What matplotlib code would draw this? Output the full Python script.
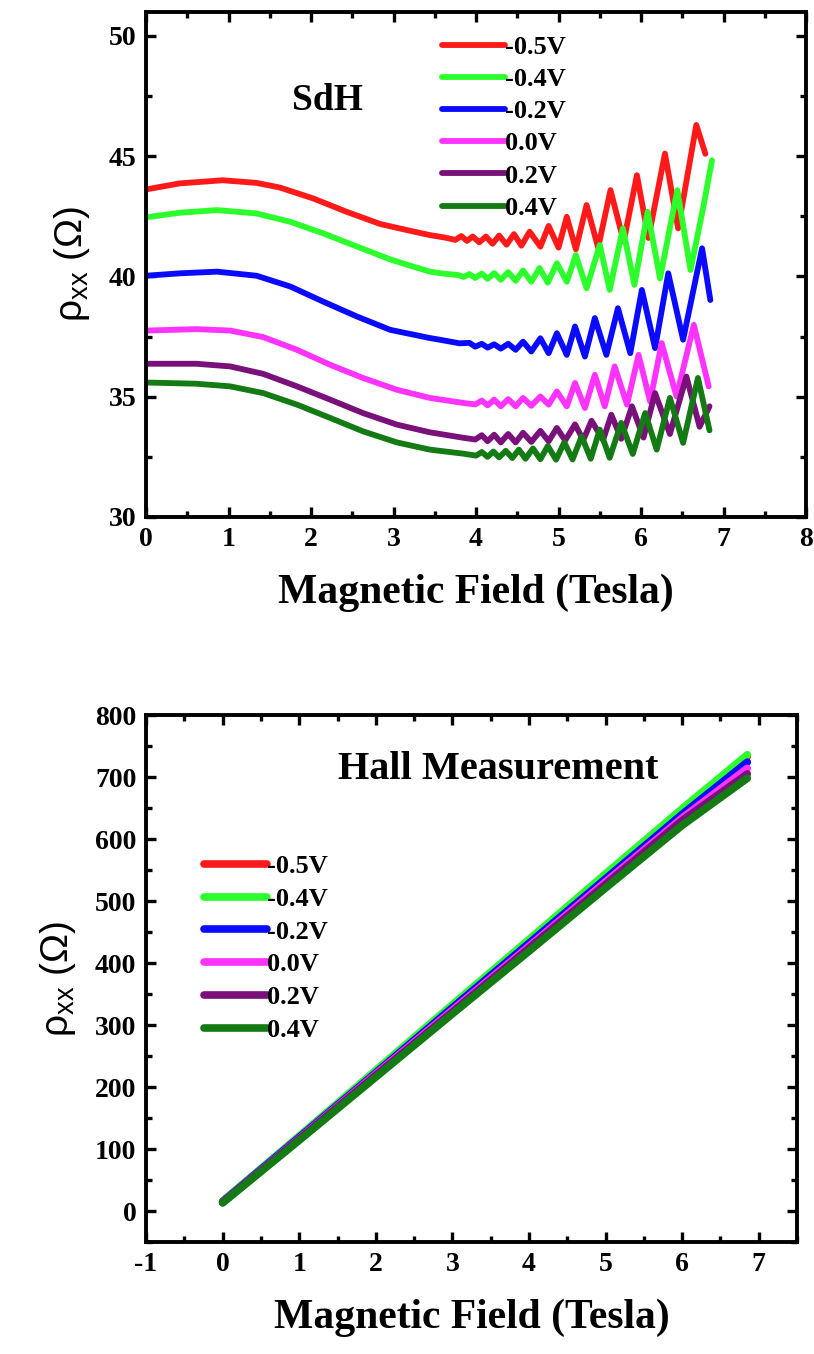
import matplotlib
matplotlib.use("Agg")
import matplotlib.pyplot as plt
from matplotlib.ticker import MultipleLocator

# gate voltages and colours
labels = ['-0.5V', '-0.4V', '-0.2V', '0.0V', '0.2V', '0.4V']
colors = ['#ff1a1a', '#2cff2c', '#0a0aff', '#ff33ff', '#7a107a', '#147a14']

# SdH panel, rho_xx (Ohm) vs B (T)
sdh_x_m05 = [0.0, 0.41, 0.93, 1.34, 1.62, 2.03, 2.43, 2.84, 3.20, 3.44,
             3.62, 3.75, 3.82, 3.89, 3.96, 4.04, 4.12, 4.20, 4.28, 4.37,
             4.46, 4.55, 4.65, 4.78, 4.88, 5.00, 5.10, 5.21, 5.34, 5.48,
             5.63, 5.79, 5.95, 6.09, 6.29, 6.45, 6.67, 6.78]
sdh_y_m05 = [43.62, 43.87, 44.00, 43.89, 43.70, 43.24, 42.69, 42.18, 41.90, 41.72,
             41.62, 41.52, 41.68, 41.48, 41.66, 41.42, 41.66, 41.36, 41.70, 41.32,
             41.76, 41.28, 41.86, 41.24, 42.10, 41.20, 42.48, 41.13, 42.97, 41.20,
             43.59, 41.45, 44.21, 41.60, 45.11, 42.00, 46.30, 45.10]

sdh_x_m04 = [0.0, 0.41, 0.86, 1.34, 1.75, 2.15, 2.56, 2.96, 3.20, 3.44,
             3.60, 3.78, 3.85, 3.92, 3.99, 4.07, 4.14, 4.22, 4.30, 4.39,
             4.48, 4.57, 4.67, 4.77, 4.87, 4.98, 5.10, 5.21, 5.34, 5.50,
             5.62, 5.78, 5.92, 6.08, 6.23, 6.44, 6.60, 6.75, 6.86]
sdh_y_m04 = [42.46, 42.65, 42.76, 42.62, 42.27, 41.79, 41.24, 40.71, 40.45, 40.20,
             40.12, 40.06, 39.98, 40.10, 39.94, 40.12, 39.90, 40.14, 39.86, 40.18,
             39.82, 40.25, 39.78, 40.35, 39.74, 40.55, 39.78, 40.89, 39.51, 41.31,
             39.44, 42.00, 39.65, 42.69, 39.92, 43.59, 40.27, 42.80, 44.83]

sdh_x_m02 = [0.0, 0.41, 0.86, 1.34, 1.75, 2.15, 2.56, 2.96, 3.44, 3.56,
             3.80, 3.92, 3.99, 4.07, 4.14, 4.22, 4.30, 4.39, 4.48, 4.57,
             4.67, 4.78, 4.88, 4.98, 5.10, 5.20, 5.32, 5.44, 5.58, 5.72,
             5.87, 6.01, 6.17, 6.33, 6.51, 6.74, 6.84]
sdh_y_m02 = [40.03, 40.13, 40.20, 40.03, 39.58, 38.95, 38.33, 37.78, 37.44, 37.37,
             37.22, 37.24, 37.08, 37.20, 37.04, 37.18, 37.00, 37.20, 36.95, 37.29,
             36.88, 37.43, 36.81, 37.64, 36.74, 37.92, 36.67, 38.27, 36.74, 38.68,
             36.81, 39.44, 37.02, 40.13, 37.37, 41.17, 39.02]

sdh_x_00 = [0.0, 0.61, 1.02, 1.42, 1.83, 2.23, 2.63, 3.04, 3.44, 3.85,
            3.99, 4.07, 4.14, 4.22, 4.30, 4.39, 4.48, 4.57, 4.67, 4.78,
            4.88, 4.98, 5.10, 5.20, 5.32, 5.44, 5.56, 5.68, 5.83, 5.97,
            6.11, 6.25, 6.43, 6.64, 6.82]
sdh_y_00 = [37.75, 37.81, 37.75, 37.48, 36.95, 36.33, 35.78, 35.29, 34.95, 34.74,
            34.68, 34.84, 34.64, 34.88, 34.60, 34.90, 34.60, 34.95, 34.62, 35.01,
            34.67, 35.22, 34.60, 35.57, 34.53, 35.91, 34.60, 36.26, 34.67, 36.74,
            34.80, 37.23, 35.01, 37.99, 35.43]

sdh_x_p02 = [0.0, 0.61, 1.02, 1.42, 1.83, 2.23, 2.63, 3.04, 3.44, 3.85,
             3.99, 4.07, 4.14, 4.22, 4.30, 4.39, 4.48, 4.57, 4.67, 4.78,
             4.88, 4.98, 5.08, 5.20, 5.30, 5.40, 5.54, 5.64, 5.76, 5.89,
             6.03, 6.17, 6.35, 6.55, 6.71, 6.83]
sdh_y_p02 = [36.37, 36.37, 36.26, 35.95, 35.43, 34.88, 34.32, 33.84, 33.52, 33.29,
             33.22, 33.40, 33.15, 33.42, 33.10, 33.45, 33.10, 33.50, 33.12, 33.58,
             33.15, 33.70, 33.18, 33.85, 33.20, 34.00, 33.20, 34.25, 33.25, 34.60,
             33.30, 35.15, 33.45, 35.84, 33.75, 34.60]

sdh_x_p04 = [0.0, 0.61, 1.02, 1.42, 1.83, 2.23, 2.63, 3.04, 3.44, 3.85,
             4.00, 4.07, 4.14, 4.21, 4.28, 4.36, 4.44, 4.52, 4.60, 4.69,
             4.78, 4.87, 4.97, 5.07, 5.17, 5.28, 5.39, 5.50, 5.62, 5.76,
             5.90, 6.05, 6.19, 6.35, 6.51, 6.69, 6.83]
sdh_y_p04 = [35.59, 35.54, 35.43, 35.15, 34.67, 34.12, 33.56, 33.10, 32.80, 32.63,
             32.55, 32.70, 32.50, 32.72, 32.48, 32.75, 32.45, 32.80, 32.42, 32.85,
             32.40, 32.95, 32.38, 33.10, 32.39, 33.35, 32.42, 33.63, 32.46, 33.91,
             32.62, 34.32, 32.80, 34.95, 33.08, 35.78, 33.60]

# Hall panel
hall_x = [0.0, 1.0, 2.0, 3.0, 4.0, 5.0, 6.0, 6.85]
hall_m05 = [15, 120, 226, 331, 437, 542, 648, 733]
hall_m04 = [16, 121, 227, 333, 438, 544, 649, 736]
hall_m02 = [15, 119, 223, 328, 432, 536, 640, 724]
hall_00 = [14, 117, 221, 324, 427, 531, 634, 714]
hall_p02 = [14, 116, 219, 321, 424, 527, 630, 705]
hall_p04 = [13, 114, 216, 318, 419, 521, 622, 698]

sdh_x = [sdh_x_m05, sdh_x_m04, sdh_x_m02, sdh_x_00, sdh_x_p02, sdh_x_p04]
sdh_y = [sdh_y_m05, sdh_y_m04, sdh_y_m02, sdh_y_00, sdh_y_p02, sdh_y_p04]
hall_y = [hall_m05, hall_m04, hall_m02, hall_00, hall_p02, hall_p04]

plt.rcParams['font.family'] = ['Liberation Serif', 'DejaVu Serif']
plt.rcParams['font.weight'] = 'bold'
plt.rcParams['mathtext.default'] = 'regular'
plt.rcParams['axes.unicode_minus'] = False

fig = plt.figure(figsize=(8.14, 13.54), dpi=100)
ax1 = fig.add_axes([0.1794, 0.6182, 0.8108, 0.373])
ax2 = fig.add_axes([0.1794, 0.0827, 0.7998, 0.3892])


def style(ax):
    for s in ax.spines.values():
        s.set_linewidth(2.8)
    ax.tick_params(which='both', direction='in', top=True, right=True,
                   width=2.4, labelsize=20, pad=7)
    ax.tick_params(which='major', length=7)
    ax.tick_params(which='minor', length=4)
    for t in ax.get_xticklabels() + ax.get_yticklabels():
        t.set_fontweight('bold')
    ax.set_xlabel('Magnetic Field (Tesla)', fontsize=30, fontweight='bold',
                  labelpad=16)
    ax.set_ylabel('ρ$_{xx}$ (Ω)', fontsize=28, fontweight='normal',
                  family=['Liberation Sans', 'DejaVu Sans'], labelpad=12)


for i in range(6):
    ax1.plot(sdh_x[i], sdh_y[i], color=colors[i], lw=4.2, label=labels[i],
             solid_joinstyle='round', solid_capstyle='round')
ax1.set_xlim(0, 8)
ax1.set_ylim(30, 51)
ax1.xaxis.set_major_locator(MultipleLocator(1))
ax1.xaxis.set_minor_locator(MultipleLocator(0.5))
ax1.yaxis.set_major_locator(MultipleLocator(5))
ax1.yaxis.set_minor_locator(MultipleLocator(2.5))
style(ax1)
ax1.text(2.2, 47.3, 'SdH', fontsize=27, fontweight='bold', ha='center', va='center')
ax1.legend(loc='upper left', bbox_to_anchor=(0.42, 0.99), frameon=False,
           prop={'family': 'Liberation Serif', 'weight': 'bold', 'size': 19},
           handlelength=2.4, handletextpad=0.0, labelspacing=0.33, borderpad=0.2)

for i in range(6):
    ax2.plot(hall_x, hall_y[i], color=colors[i], lw=5.5, label=labels[i],
             solid_capstyle='round')
ax2.set_xlim(-1, 7.5)
ax2.set_ylim(-50, 800)
ax2.xaxis.set_major_locator(MultipleLocator(1))
ax2.xaxis.set_minor_locator(MultipleLocator(0.5))
ax2.yaxis.set_major_locator(MultipleLocator(100))
ax2.yaxis.set_minor_locator(MultipleLocator(50))
style(ax2)
ax2.text(3.6, 712, 'Hall Measurement', fontsize=29, fontweight='bold',
         ha='center', va='center')
ax2.legend(loc='upper left', bbox_to_anchor=(0.06, 0.77), frameon=False,
           prop={'family': 'Liberation Serif', 'weight': 'bold', 'size': 19},
           handlelength=2.4, handletextpad=0.0, labelspacing=0.35, borderpad=0.2)

fig.savefig('out.png', dpi=100)
